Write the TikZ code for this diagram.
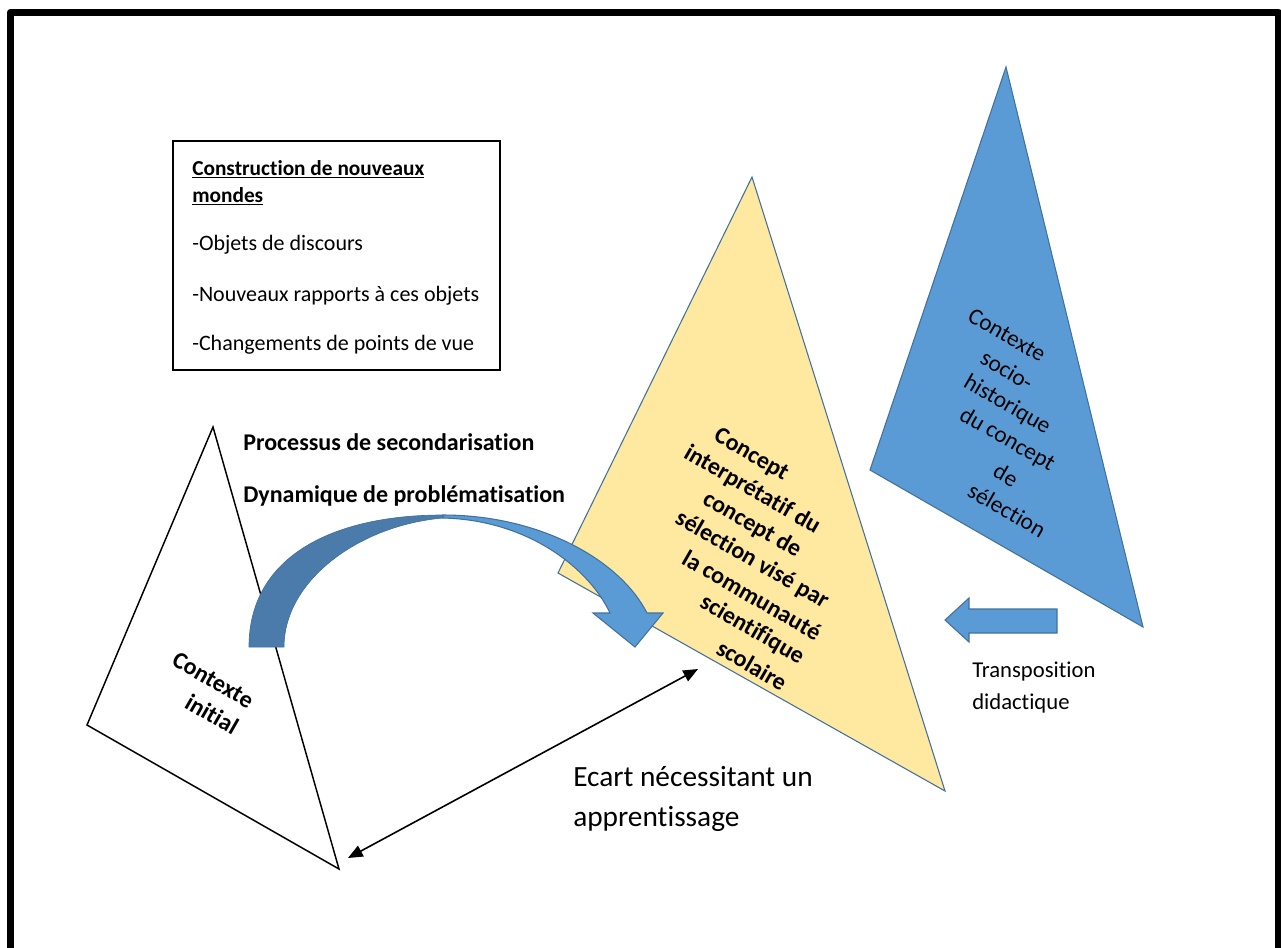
\documentclass[tikz,border=0pt]{standalone}
\usepackage{fontspec}
\setmainfont{Carlito}[RawFeature={-liga;-clig;-calt;-dlig}]
\usetikzlibrary{arrows.meta}
\definecolor{bluefill}{HTML}{5B9BD5}
\definecolor{blueline}{HTML}{41719C}
\definecolor{bluedark}{HTML}{4A7BAB}
\definecolor{yellowfill}{HTML}{FFE9A0}
\begin{document}
\begin{tikzpicture}[x=0.75pt,y=-0.75pt,
  lbl/.style={inner sep=0pt, anchor=base west, font=\fontsize{16.5}{20}\selectfont},
  blbl/.style={inner sep=0pt, anchor=base west, font=\bfseries\fontsize{18}{22}\selectfont},
  bigl/.style={inner sep=0pt, anchor=base west, font=\fontsize{22}{26}\selectfont},
  rbold/.style={inner sep=0pt, rotate=-30, font=\bfseries\fontsize{18}{22}\selectfont},
  rreg/.style={inner sep=0pt, rotate=-30, font=\fontsize{17.5}{20}\selectfont},
  blueshape/.style={fill=bluefill, draw=blueline, line width=0.8pt, line join=miter},
]
\useasboundingbox (0,0) rectangle (1281,947);
\clip (0,0) rectangle (1281,947);
\fill[white] (0,0) rectangle (1281,947);
% frame
\draw[line width=5.25pt, line join=round] (10.5,980) -- (10.5,12) -- (1278,12) -- (1278,980);

% triangle vertices
\coordinate (wA) at (213,427);
\coordinate (wB) at (87,725);
\coordinate (wC) at (339,869);
\coordinate (yA) at (752,177);
\coordinate (yB) at (558,573);
\coordinate (yC) at (945,791);
\coordinate (bA) at (1006,67);
\coordinate (bB) at (870,470);
\coordinate (bC) at (1143,627);

\draw[line width=1.1pt, line join=miter] (wA) -- (wB) -- (wC) -- cycle;
\draw[fill=yellowfill, draw=blueline, line width=0.8pt, line join=miter] (yA) -- (yB) -- (yC) -- cycle;
\draw[blueshape] (bA) -- (bB) -- (bC) -- cycle;

% curved arrow
\fill[bluedark, draw=blueline, line width=0.5pt] (249,647) .. controls (249,555) and (335,515) .. (443,515)
  -- (443,518) .. controls (360,525) and (284,580) .. (284,647) -- cycle;
\draw[blueshape] (443,515) .. controls (540,515) and (620,560) .. (647,613)
  -- (663,613) -- (635,647) -- (593,613) -- (610,613)
  .. controls (590,570) and (530,520) .. (443,518) -- cycle;

% block arrow
\draw[blueshape] (945,620) -- (969,598) -- (969,609) -- (1057,609) -- (1057,633) -- (969,633) -- (969,642) -- cycle;

% double arrow
\coordinate (e1) at (348,858);
\coordinate (e2) at (698,669);
\draw[line width=1.2pt, {Triangle[length=11pt,width=9pt]}-{Triangle[length=11pt,width=9pt]}] (e1) -- (e2);

% box
\draw[line width=0.8pt] (173,141) rectangle (500,370);
\node[blbl, font=\bfseries\fontsize{16}{20}\selectfont] (b1) at (192,175) {\underline{Construction de nouveaux}};
\node[blbl, font=\bfseries\fontsize{16}{20}\selectfont] (b2) at (192,202) {\underline{mondes}};
\node[lbl] (b3) at (192,250) {-Objets de discours};
\node[lbl] (b4) at (192,301) {-Nouveaux rapports à ces objets};
\node[lbl] (b5) at (192,350) {-Changements de points de vue};

% labels
\node[blbl] (p1) at (243,450) {Processus de secondarisation};
\node[blbl] (p2) at (243,502) {Dynamique de problématisation};
\node[bigl] (ec1) at (573,786) {Ecart nécessitant un};
\node[bigl] (ec2) at (573,826) {apprentissage};
\node[lbl, font=\fontsize{17}{20}\selectfont] (t1) at (972,677) {Transposition};
\node[lbl, font=\fontsize{17}{20}\selectfont] (t2) at (972,709) {didactique};

% white triangle text
\node[rbold] (w1) at (213,680) {Contexte};
\node[rbold] (w2) at (212,714) {initial};

% yellow triangle text
\node[rbold] (y1) at (751,455) {Concept};
\node[rbold] (y2) at (752,490) {interprétatif du};
\node[rbold] (y3) at (752,525) {concept de};
\node[rbold] (y4) at (752,560) {sélection visé par};
\node[rbold] (y5) at (752,595) {la communauté};
\node[rbold] (y6) at (752,630) {scientifique};
\node[rbold] (y7) at (752,665) {scolaire};

% blue triangle text
\node[rreg] (s1) at (1007,335) {Contexte};
\node[rreg] (s2) at (1007,370) {socio-};
\node[rreg] (s3) at (1007,405) {historique};
\node[rreg] (s4) at (1007,440) {du concept};
\node[rreg] (s5) at (1006,475) {de};
\node[rreg] (s6) at (1007,510) {sélection};
\end{tikzpicture}
\end{document}
